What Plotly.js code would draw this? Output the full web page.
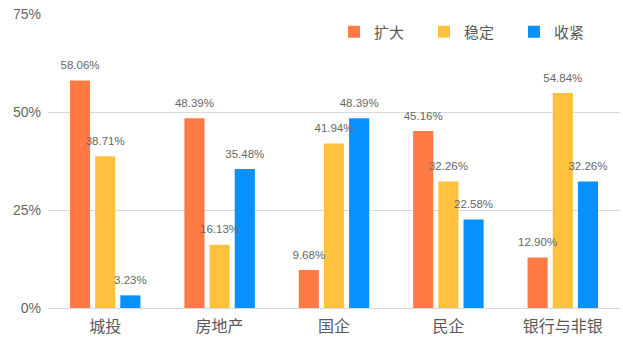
<!DOCTYPE html>
<html>
<head>
<meta charset="utf-8">
<script src="https://cdn.plot.ly/plotly-3.0.1.min.js"></script>
<style>html,body{margin:0;padding:0;background:#fff;}#chart{width:623px;height:344px;}</style>
</head>
<body>
<div id="chart"></div>
<script>
const categories = ['城投', '房地产', '国企', '民企', '银行与非银'];
const seriesNames = ['扩大', '稳定', '收紧'];
const expand = [58.06, 48.39, 9.68, 45.16, 12.90];
const stable = [38.71, 16.13, 41.94, 32.26, 54.84];
const tighten = [3.23, 35.48, 48.39, 22.58, 32.26];
const yTickVals = [0, 25, 50, 75];
const yTickText = ['0%', '25%', '50%', '75%'];

const colors = ['#FF7A45', '#FFC13E', '#0791FF'];
const values = [expand, stable, tighten];

const bars = values.map((v, i) => ({
  type: 'bar',
  name: seriesNames[i],
  x: categories,
  y: v,
  offsetgroup: 'g' + i,
  alignmentgroup: 'a',
  marker: {color: colors[i]},
  hoverinfo: 'none'
}));

const labels = values.map((v, i) => ({
  type: 'scatter',
  mode: 'markers+text',
  x: categories,
  y: v,
  offsetgroup: 'g' + i,
  alignmentgroup: 'a',
  marker: {size: 12, opacity: 0, color: colors[i]},
  text: v.map(d => d.toFixed(2) + '%'),
  textposition: 'top center',
  textfont: {family: 'Liberation Sans, sans-serif', size: 11.5, color: '#666666'},
  cliponaxis: false,
  showlegend: false,
  hoverinfo: 'none'
}));

const layout = {
  width: 623, height: 344,
  margin: {l: 48, r: 3, t: 14, b: 36},
  paper_bgcolor: '#fff', plot_bgcolor: '#fff',
  barmode: 'group',
  scattermode: 'group',
  bargap: 0.34,
  bargroupgap: 0.2,
  font: {family: 'Noto Sans CJK SC, sans-serif', color: '#595959'},
  showlegend: true,
  legend: {
    orientation: 'h', x: 0.5, xanchor: 'left', y: 0.995, yanchor: 'top',
    font: {size: 15, color: '#595959', family: 'Noto Sans CJK SC, sans-serif'},
    entrywidth: 45, entrywidthmode: 'pixels', traceorder: 'normal', bgcolor: 'rgba(0,0,0,0)'
  },
  xaxis: {
    tickfont: {size: 16, color: '#595959', family: 'Noto Sans CJK SC, sans-serif'},
    showline: true, linecolor: '#d9d9d9', linewidth: 1,
    ticks: '', showgrid: false, fixedrange: true, ticklabelstandoff: 4
  },
  yaxis: {
    range: [0, 75],
    tickvals: yTickVals, ticktext: yTickText,
    tickfont: {size: 14, color: '#666666', family: 'Liberation Sans, sans-serif'},
    showgrid: true, gridcolor: '#d9d9d9', gridwidth: 1,
    zeroline: false, showline: false, ticks: '', ticklabelstandoff: 6, fixedrange: true
  }
};

Plotly.newPlot('chart', bars.concat(labels), layout, {displayModeBar: false, staticPlot: true});
</script>
</body>
</html>
